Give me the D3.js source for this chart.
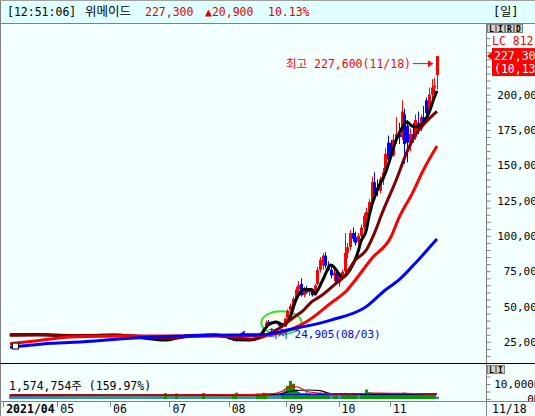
<!DOCTYPE html>
<meta charset="utf-8">
<script src="https://d3js.org/d3.v7.min.js"></script>
<style>
  body { margin: 0; background: #ffffff; }
  svg text { font-family: "DejaVu Sans Mono", "Noto Sans CJK KR", monospace; }
</style>
<div id="my_dataviz"></div>
<script>

// daily candles [open, high, low, close], index 0 = first day on screen (2021/04)
var candles = [
  [30200,30800,29700,30000],[30000,30500,29600,30300],[30300,30900,29900,30100],[30100,30600,29800,30400],
  [30400,31000,30000,30200],[30200,30700,29800,30000],[30000,30400,29500,29800],[29800,30300,29400,30100],
  [30100,30600,29800,30300],[30300,30800,29900,30000],[30000,30300,29400,29600],[29600,30200,29300,29900],
  [29900,30400,29600,30100],[30100,30500,29700,29800],[29800,30100,29200,29400],[29400,29900,29100,29700],
  [29700,30200,29400,29500],[29500,29800,29000,29200],[29200,29700,28900,29500],[29500,30000,29200,29300],
  [29300,29600,28800,29000],[29000,29500,28600,29300],[29300,29900,29000,29600],[29600,30000,29200,29400],
  [29400,29800,28900,29100],[29100,29500,28700,29300],[29300,29700,29000,29500],[29500,30000,29200,29800],
  [29800,30300,29500,29600],[29600,29900,29100,29300],[29300,29800,29000,29600],[29600,30200,29400,30000],
  [30000,30400,29600,29800],[29800,30100,29400,29600],[29600,30000,29300,29900],[29900,30500,29700,30200],
  [30200,30700,29900,30000],[30000,30400,29600,29700],[29700,30100,29400,29900],[29900,30300,29500,29600],
  [29600,29900,29100,29300],[29300,29600,28800,29000],[29000,29400,28500,28700],[28700,29100,28300,28900],
  [28900,29200,28400,28500],[28500,28800,28000,28200],[28200,28600,27700,27900],[27900,28300,27500,28100],
  [28100,28400,27600,27800],[27800,28100,27200,27400],[27400,27800,26900,27100],[27100,27500,26600,26800],
  [26800,27300,26500,27000],[27000,27400,26400,26600],[26600,27000,26200,26500],[26500,26900,26100,26700],
  [26700,27200,26400,26900],[26900,27500,26600,27300],[27300,27800,27000,27600],[27600,28200,27300,28000],
  [28000,28600,27700,28400],[28400,29000,28100,28700],[28700,29300,28400,29100],[29100,29700,28800,29400],
  [29400,30000,29100,29700],[29700,30200,29300,29500],[29500,30000,29200,29800],[29800,30500,29500,30100],
  [30100,30600,29700,29900],[29900,30300,29500,30200],[30200,30700,29800,30000],[30000,30400,29600,29800],
  [29800,30200,29400,30000],[30000,30400,29600,29700],[29700,30100,29200,29400],[29400,29800,29000,29200],
  [29200,29600,28700,28900],[28900,29300,28400,28600],[28600,29000,28100,28300],[28300,28600,27700,27900],
  [27900,28200,27000,27200],[27200,27500,26300,26500],[26500,26800,25500,25800],[25800,26500,24905,26200],
  [26200,26700,25700,26300],[26300,27000,26000,26700],[26700,27200,26200,26400],[26400,26900,26000,26600],
  [26600,27100,26200,26900],[26900,27600,26600,27300],[27300,27800,26800,27100],[26500,28500,26200,28200],
  [28300,31500,28000,31000],[31500,35000,31000,34000],[35000,40000,34500,38500],[39000,40500,37500,38000],
  [38000,39500,37000,38800],[39000,40000,37500,38200],[38200,39500,37200,38600],[38500,39000,36000,36500],
  [36500,37000,34500,35500],[35800,42000,35500,41500],[42000,48000,41500,47000],[47500,52000,46500,50500],
  [50000,57000,49000,55500],[56000,64000,55000,62000],[62000,68000,60000,65000],[66000,70000,57000,58000],
  [58000,64000,56500,62000],[62000,64500,59000,60000],[60000,63000,57500,61500],[61000,62000,57000,58000],
  [58000,66000,57500,65000],[66000,78000,65000,76000],[76000,85000,74000,83000],[79000,88000,76000,86000],
  [86000,88500,77000,79000],[79000,82000,75000,76000],[76000,79000,70000,72000],[72000,76000,68000,74000],
  [74000,75000,66000,67000],[67000,74000,64000,72000],[72000,76000,70000,74500],[75000,102000,74000,88000],
  [88000,95000,84000,92000],[92000,104000,90000,102000],[102000,106000,96000,98000],[99000,103000,93000,95000],
  [96000,102000,94000,100000],[100000,108000,99000,106000],[106000,116000,104000,114000],[114000,120000,110000,117000],
  [117000,126000,115000,124000],[124000,142000,122000,138000],[138000,145000,126000,130000],[134000,140000,128000,132000],
  [132000,142000,130000,140000],[140000,148000,136000,145000],[146000,162000,144000,158000],[166000,171000,150000,154000],
  [166000,168000,155000,157000],[157000,172000,156000,168000],[168000,184000,165000,172000],[172000,180000,165000,170000],
  [170000,196000,168000,188000],[186000,190000,151000,165000],[178000,182000,152000,166000],[166000,176000,160000,172000],
  [172000,180000,166000,170000],[170000,186000,168000,182000],[180000,188000,172000,176000],[176000,186000,174000,184000],
  [184000,192000,178000,180000],[196000,198000,184000,187000],[188000,205000,186000,200000],[200000,211000,196000,205000],
  [205000,212000,200000,206400],[213900,227600,203500,227300]
];

// daily volume, thousand shares
var volumes = [
  3100,2900,3000,2800,2700,2900,3300,2800,2700,2600, 2900,2800,2700,2600,2800,2700,2600,2900,2500,2600,
  2700,2600,2800,2500,2600,2700,2400,2600,2500,2700, 2600,2800,2500,2600,2400,2700,2600,2500,2800,2600,
  2700,2500,2600,2800,2600,2500,2700,2600,2900,2700, 2800,3000,2700,2900,3100,2800,3000,3900,2900,2700,
  2800,3700,2700,2600,2800,2900,2700,2600,2800,2700, 2900,4000,2800,2700,2600,2800,2900,2700,2800,3000,
  3000,3200,3500,4200,3100,2900,2800,3000,2900,3100, 3000,3600,3500,4100,3800,3300,3100,3200,3000,3400,
  4200,5500,8800,12000,10200,6300,4700,4000,3800,4300, 3900,3600,3700,4100,4200,3900,3600,3500,3400,3600,
  3500,3400,3600,4100,3900,3800,3600,3500,3400,3600, 3800,6300,4500,4200,4000,3800,3600,3700,4000,3900,
  3800,3900,4100,4000,4100,4200,3900,3800,3700,3800, 3700,3600,3800,3900,3700,3600,3700,1575
];

// moving averages: [day index, price]
var ma5 = [[0,30000],[10,30100],[20,29500],[30,29400],[38,29800],[45,28800],[50,27500],[57,26300],[62,28000],
  [66,29500],[75,29800],[80,28600],[84,26400],[88,26300],[91,27500],[93,32000],[95,37000],[98,39000],[100,37200],
  [101,37000],[103,42600],[105,54000],[108,62000],[111,62000],[112,59000],[115,68800],[118,79400],[121,73000],
  [122,70500],[125,75800],[128,89000],[129,96000],[131,104000],[132,114000],[135,132500],[138,144500],[140,156000],
  [142,168000],[144,176000],[146,180600],[148,177500],[150,177000],[152,180000],[154,187000],[156,198000],[157,202600]];
var ma10 = [[0,29600],[12,29800],[25,29500],[40,29600],[50,28500],[58,27300],[66,28800],[75,29800],[82,28200],
  [88,26800],[93,28500],[97,32200],[104,41900],[108,47500],[111,53500],[114,57000],[120,66600],[123,71500],
  [127,83000],[131,90000],[134,102000],[137,117000],[142,139600],[146,159600],[149,171400],[153,180800],[157,188200]];
var ma20 = [[0,23700],[10,25800],[22,28400],[35,29000],[51,29100],[70,29000],[81,29100],[92,29400],[99,31200],
  [109,39200],[118,52500],[124,61700],[127,68800],[133,84000],[140,99000],[143,112700],[148,130400],[152,146600],[157,163600]];
var ma60 = [[0,21200],[8,22700],[15,23900],[27,25100],[39,26800],[51,28200],[64,29100],[82,29800],[92,29900],
  [105,34600],[118,40400],[131,49900],[138,61700],[143,68800],[149,80600],[157,97800]];

// volume moving averages [day index, thousand shares]
var vma5 = [[0,2800],[40,2600],[80,2900],[95,3300],[100,5000],[103,8400],[106,8000],[109,5000],[115,3800],
  [125,3400],[135,3900],[145,3700],[157,3200]];
var vma20 = [[0,2900],[80,2800],[98,3200],[104,5400],[110,6000],[114,5600],[118,3600],[135,3400],[157,3400]];
var vma60 = [[0,2300],[60,2500],[95,2800],[105,3000],[157,3200]];

// axis labels
var monthLabels = ["2021/04","05","06","07","08","09","10","11"];
var monthAt = [-2.5, 17.4, 36.8, 58.6, 80.4, 101.5, 120.8, 139.7];

var header = ["[12:51:06]", "위메이드", "227,300", "▲20,900", "10.13%"];
var hi = {v: 227600, label: "최고 227,600(11/18)", i: 157};
var lo = {v: 24905, label: "최저 24,905(08/03)", i: 83};
var lastPrice = 227300, lastRate = "(10,13%)";
var volText = "1,574,754주 (159.97%)";

var W = 535, H = 416;
var axisX = 486, top0 = 23, mainB = 363, volB = 401;

var svg = d3.select("#my_dataviz").append("svg")
  .attr("width", W).attr("height", H).style("display", "block");

svg.append("rect").attr("width", W).attr("height", H).attr("fill", "#f4ffff");

// scales
var x = d3.scaleLinear().domain([0, candles.length - 1]).range([10, 437]);
var y = d3.scaleLinear().domain([10000, 250000]).range([363, 24]);
var vy = d3.scaleLinear().domain([0, 10000]).range([399, 384]);

var defs = svg.append("defs");
defs.append("clipPath").attr("id", "clipMain").append("rect")
  .attr("x", 2).attr("y", top0 + 1).attr("width", axisX - 2).attr("height", mainB - top0 - 1);
defs.append("clipPath").attr("id", "clipVol").append("rect")
  .attr("x", 2).attr("y", mainB + 1).attr("width", axisX - 2).attr("height", volB - mainB - 1);
defs.append("clipPath").attr("id", "clipVolAxis").append("rect")
  .attr("x", axisX).attr("y", mainB + 1).attr("width", W - axisX).attr("height", volB - mainB - 1);

var main = svg.append("g").attr("clip-path", "url(#clipMain)");

// annotation ellipse (drawn by the user on the chart)
main.append("ellipse")
  .attr("cx", x(99.8)).attr("cy", y(38500))
  .attr("rx", x(99.8 + 7.4) - x(99.8)).attr("ry", y(38500) - y(38500 + 8100))
  .attr("fill", "#fffbe6").attr("stroke", "#33e033").attr("stroke-width", 2);

// low label sits under the lines
var lowY = y(lo.v) - 8;
main.append("line").attr("x1", x(lo.i) + 5).attr("x2", x(lo.i) + 30)
  .attr("y1", lowY).attr("y2", lowY).attr("stroke", "#0000ff").attr("stroke-width", 1);
main.append("path")
  .attr("d", "M" + (x(lo.i) + 4) + "," + lowY + "l5,-3.5v7z").attr("fill", "#0000ff");
main.append("text").attr("x", x(lo.i) + 32).attr("y", lowY + 4)
  .attr("font-size", "11px").attr("fill", "#0000ff").text(lo.label);

// candles
main.selectAll(".wick").data(candles).enter().append("line")
  .attr("x1", function(d, i) { return Math.round(x(i)) + 0.5; })
  .attr("x2", function(d, i) { return Math.round(x(i)) + 0.5; })
  .attr("y1", function(d) { return y(d[1]); })
  .attr("y2", function(d) { return y(d[2]); })
  .attr("stroke", function(d) { return d[3] >= d[0] ? "#ff0000" : "#0000ff"; })
  .attr("stroke-width", 1);
main.selectAll(".body").data(candles).enter().append("rect")
  .attr("x", function(d, i) { return Math.round(x(i)) - 1; })
  .attr("width", 3)
  .attr("y", function(d) { return y(Math.max(d[0], d[3])); })
  .attr("height", function(d) { return Math.max(1, Math.abs(y(d[0]) - y(d[3]))); })
  .attr("fill", function(d) { return d[3] >= d[0] ? "#ff0000" : "#0000ff"; });

// moving average lines
var maLine = d3.line()
  .x(function(d) { return x(d[0]); })
  .y(function(d) { return y(d[1]); })
  .curve(d3.curveMonotoneX);
[[ma5, "#000000"], [ma10, "#800000"], [ma20, "#ff0000"], [ma60, "#0000ff"]].forEach(function(s) {
  main.append("path").attr("d", maLine(s[0]))
    .attr("fill", "none").attr("stroke", s[1]).attr("stroke-width", 3)
    .attr("stroke-linejoin", "round");
});

// start marker
main.append("rect").attr("x", x(2) - 3).attr("y", y(22000) - 3).attr("width", 6).attr("height", 6)
  .attr("fill", "#ffffff").attr("stroke", "#000000").attr("stroke-width", 1);

// high label
var hiY = y(hi.v) + 8;
var hiTip = x(hi.i) - 4;
main.append("line").attr("x1", hiTip - 20).attr("x2", hiTip).attr("y1", hiY).attr("y2", hiY)
  .attr("stroke", "#ff0000").attr("stroke-width", 1);
main.append("path").attr("d", "M" + hiTip + "," + hiY + "l-5,-3.5v7z").attr("fill", "#ff0000");
main.append("text").attr("x", hiTip - 22).attr("y", hiY + 4).attr("text-anchor", "end")
  .attr("font-size", "11.5px").attr("fill", "#ff0000").text(hi.label);

// volume panel
var vol = svg.append("g").attr("clip-path", "url(#clipVol)");
vol.selectAll("rect").data(volumes).enter().append("rect")
  .attr("x", function(d, i) { return Math.round(x(i)) - 1; })
  .attr("width", 3)
  .attr("y", function(d) { return vy(d); })
  .attr("height", function(d) { return vy(0) - vy(d); })
  .attr("fill", function(d) { return d > 3450 ? "#009a00" : "#3f9090"; });
var vLine = d3.line()
  .x(function(d) { return x(d[0]); })
  .y(function(d) { return vy(d[1]); })
  .curve(d3.curveMonotoneX);
[[vma60, "#0000ff"], [vma20, "#000000"], [vma5, "#ff0000"]].forEach(function(s) {
  vol.append("path").attr("d", vLine(s[0]))
    .attr("fill", "none").attr("stroke", s[1]).attr("stroke-width", 1.2);
});
svg.append("text").attr("x", 9).attr("y", 390).attr("font-size", "11.5px").attr("fill", "#000")
  .text(volText);

// frame lines
svg.append("rect").attr("x", 0).attr("y", 0).attr("width", W).attr("height", top0).attr("fill", "#e0ffff");
svg.append("line").attr("x1", 0).attr("x2", W).attr("y1", top0 + 0.5).attr("y2", top0 + 0.5).attr("stroke", "#808080");
svg.append("line").attr("x1", 0.5).attr("x2", 0.5).attr("y1", 0).attr("y2", H).attr("stroke", "#808080");
svg.append("line").attr("x1", 0).attr("x2", W).attr("y1", 0.5).attr("y2", 0.5).attr("stroke", "#a0a0a0");
svg.append("line").attr("x1", axisX + 0.5).attr("x2", axisX + 0.5).attr("y1", top0).attr("y2", H).attr("stroke", "#808080");
svg.append("line").attr("x1", 0).attr("x2", W).attr("y1", mainB + 0.5).attr("y2", mainB + 0.5).attr("stroke", "#000000");
svg.append("line").attr("x1", 0).attr("x2", W).attr("y1", volB + 0.5).attr("y2", volB + 0.5).attr("stroke", "#808080");

// price axis
var yAxis = svg.append("g").attr("transform", "translate(" + (axisX + 0.5) + ",0)")
  .call(d3.axisRight(y).tickValues(d3.range(15000, 245001, 5000)).tickSize(4)
    .tickFormat(function(d) { return d % 25000 === 0 ? d3.format(",")(d) : ""; }));
yAxis.select(".domain").remove();
yAxis.selectAll("line").attr("stroke", "#808080");
yAxis.selectAll("text").attr("x", 57).attr("text-anchor", "end")
  .attr("font-size", "11px").attr("fill", "#000")
  .style("font-family", "'DejaVu Sans Mono', monospace");

// volume axis
var vAxis = svg.append("g").attr("clip-path", "url(#clipVolAxis)")
  .append("g").attr("transform", "translate(" + (axisX + 0.5) + ",0)")
  .call(d3.axisRight(vy).tickValues([0, 5000, 10000, 15000]).tickSize(4)
    .tickFormat(function(d) { return d === 0 ? "0K" : d === 10000 ? "10,000K" : ""; }));
vAxis.select(".domain").remove();
vAxis.selectAll("line").attr("stroke", "#808080");
vAxis.selectAll("text").attr("x", 54).attr("text-anchor", "end")
  .attr("font-size", "11px").attr("fill", "#000")
  .style("font-family", "'DejaVu Sans Mono', monospace");

// month axis
var mx = svg.append("g");
mx.selectAll("line").data(monthAt).enter().append("line")
  .attr("x1", function(d) { return Math.round(x(d)) + 0.5; })
  .attr("x2", function(d) { return Math.round(x(d)) + 0.5; })
  .attr("y1", volB + 1).attr("y2", volB + 6).attr("stroke", "#808080");
mx.selectAll("text").data(monthAt).enter().append("text")
  .attr("x", function(d) { return x(d) + 3; })
  .attr("y", 413)
  .attr("font-size", "11.5px")
  .attr("font-weight", function(d, i) { return i === 0 ? "bold" : "normal"; })
  .text(function(d, i) { return monthLabels[i]; });
svg.append("text").attr("x", 492).attr("y", 413).attr("font-size", "11.5px").text("11/18");

// header texts
var hx = [7, 85, 145, 205, 268];
svg.selectAll(".hdr").data(header).enter().append("text")
  .attr("x", function(d, i) { return hx[i]; })
  .attr("y", 16)
  .attr("font-size", function(d, i) { return i === 1 ? "12.5px" : "11.5px"; })
  .attr("fill", function(d, i) { return i >= 2 ? "#e00000" : "#000"; })
  .text(function(d) { return d; });
svg.append("text").attr("x", 493).attr("y", 16).attr("font-size", "12px").text("[일]");

// right panel buttons and current price tag
var btn = svg.append("g");
["L", "I", "R", "D"].forEach(function(t, k) {
  btn.append("rect").attr("x", 487.5 + k * 9).attr("y", 24.5).attr("width", 8).attr("height", 8)
    .attr("fill", "#d4d0c8").attr("stroke", "#808080");
  btn.append("text").attr("x", 491.5 + k * 9).attr("y", 31.5).attr("text-anchor", "middle")
    .attr("font-size", "8px").attr("font-weight", "bold").text(t);
});
["L", "I"].forEach(function(t, k) {
  btn.append("rect").attr("x", 487.5 + k * 9).attr("y", 365.5).attr("width", 8).attr("height", 8)
    .attr("fill", "#d4d0c8").attr("stroke", "#808080");
  btn.append("text").attr("x", 491.5 + k * 9).attr("y", 372.5).attr("text-anchor", "middle")
    .attr("font-size", "8px").attr("font-weight", "bold").text(t);
});
svg.append("text").attr("x", 492).attr("y", 45).attr("font-size", "11.5px").attr("fill", "#ff0000").text("LC 812,");
svg.append("text").attr("x", 492).attr("y", 57).attr("font-size", "11.5px").attr("fill", "#0000ff").text("HO 0,");

var py = y(lastPrice);
svg.append("rect").attr("x", 492).attr("y", py - 8).attr("width", 50).attr("height", 28).attr("fill", "#ff0000");
svg.append("path").attr("d", "M" + (axisX + 1) + "," + py + "l6,-5v10z").attr("fill", "#ff0000");
svg.append("text").attr("x", 494).attr("y", py + 4).attr("font-size", "11.5px").attr("fill", "#fff")
  .text(d3.format(",")(lastPrice));
svg.append("text").attr("x", 494).attr("y", py + 17).attr("font-size", "11.5px").attr("fill", "#fff")
  .text(lastRate);

</script>
